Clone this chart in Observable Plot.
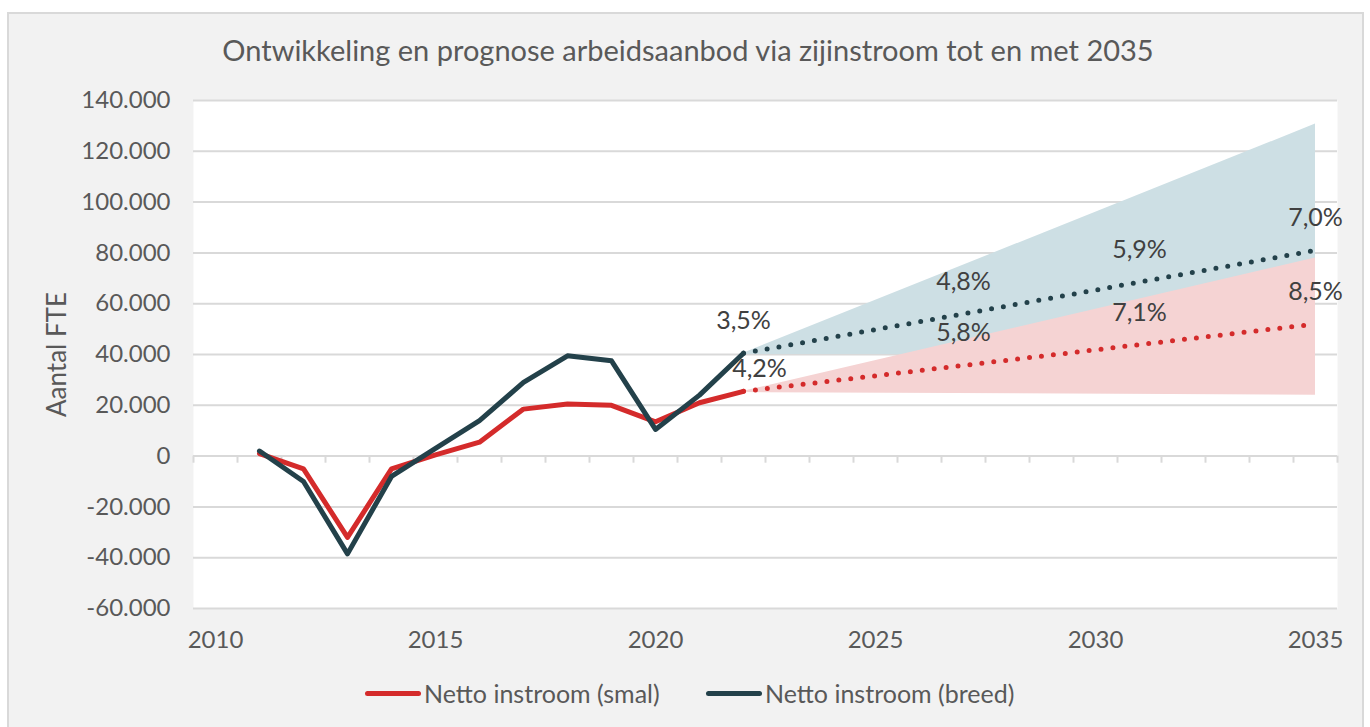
<!DOCTYPE html>
<html>
<head>
<meta charset="utf-8">
<script src="https://cdn.jsdelivr.net/npm/d3@7"></script>
<script src="https://cdn.jsdelivr.net/npm/@observablehq/plot@0.6"></script>
<style>
  html, body { margin: 0; padding: 0; background: #ffffff; }
  body { width: 1370px; height: 727px; position: relative; overflow: hidden; font-family: Lato, "Open Sans", sans-serif; }
  #box { position: absolute; left: 7px; top: 12px; width: 1357px; height: 800px; background: #f2f2f2; border: 2px solid #d9d9d9; box-sizing: border-box; }
  #chart { position: absolute; left: 0; top: 0; }
  #title { position: absolute; left: 0; top: 32px; width: 1376px; text-align: center; font-size: 29px; color: #595959; line-height: 36px; white-space: nowrap; }
  .leg { position: absolute; top: 679px; height: 28px; display: flex; align-items: center; font-size: 25px; color: #595959; white-space: nowrap; }
  .sw { display: inline-block; width: 56px; height: 5px; border-radius: 3px; margin-right: 3px; }
</style>
</head>
<body>
<div id="box"></div>
<div id="chart"></div>
<div id="title">Ontwikkeling en prognose arbeidsaanbod via zijinstroom tot en met 2035</div>
<div class="leg" style="left:365px"><span class="sw" style="background:#d42b2b"></span>Netto instroom (smal)</div>
<div class="leg" style="left:706px"><span class="sw" style="background:#23414a"></span>Netto instroom (breed)</div>
<script>
// ---- data ----
const years = [2011, 2012, 2013, 2014, 2015, 2016, 2017, 2018, 2019, 2020, 2021, 2022];
const smal  = [1000, -5000, -32000, -5000, 500, 5500, 18500, 20500, 20000, 13500, 21000, 25500];
const breed = [2000, -10000, -38500, -8000, 3000, 14000, 29000, 39500, 37500, 10500, 24000, 40500];

const projYears = [2022, 2027, 2031, 2035];
const projSmal  = [25500, 35700, 43900, 52000];
const projBreed = [40500, 56000, 68500, 81000];
const labelsSmal  = ["4,2%", "5,8%", "7,1%", "8,5%"];
const labelsBreed = ["3,5%", "4,8%", "5,9%", "7,0%"];

const bandYears = [2022, 2035];
const breedLow  = [40000, 40000];
const breedHigh = [40500, 130700];
const smalLow   = [25000, 24000];
const smalHigh  = [25500, 78000];

const xTicks = [2010, 2015, 2020, 2025, 2030, 2035];
const yTicks = [-60000, -40000, -20000, 0, 20000, 40000, 60000, 80000, 100000, 120000, 140000];
const halfYears = d3.range(2009.5, 2036, 1);

// ---- tables ----
const hist = years.map((y, i) => ({year: y, smal: smal[i], breed: breed[i]}));
const proj = projYears.map((y, i) => ({year: y, smal: projSmal[i], breed: projBreed[i], ls: labelsSmal[i], lb: labelsBreed[i]}));
const bands = bandYears.map((y, i) => ({year: y, bl: breedLow[i], bh: breedHigh[i], sl: smalLow[i], sh: smalHigh[i]}));

const loc = d3.formatLocale({decimal: ",", thousands: ".", grouping: [3], currency: ["€", ""], minus: "-"});
const fmt = loc.format(",.0f");

const RED = "#d42b2b", DARK = "#23414a", TXT = "#595959";

const chart = Plot.plot({
  width: 1370, height: 727,
  marginLeft: 193, marginRight: 33, marginTop: 100, marginBottom: 119,
  x: {domain: [2009.5, 2035.5]},
  y: {domain: [-60000, 140000]},
  style: {background: "transparent", fontFamily: "Lato, 'Open Sans', sans-serif", fontSize: "24px", color: TXT, overflow: "visible"},
  marks: [
    Plot.frame({fill: "white", stroke: "none"}),
    Plot.ruleY(yTicks, {stroke: "#d9d9d9", strokeWidth: 2}),
    Plot.ruleX(halfYears, {x: d => d, y1: 0, y2: -2800, stroke: "#d9d9d9", strokeWidth: 2}),
    Plot.areaY(bands, {x: "year", y1: "bl", y2: "bh", fill: "#cddfe4"}),
    Plot.areaY(bands, {x: "year", y1: "sl", y2: "sh", fill: "#f5d3d3"}),
    Plot.line(proj, {x: "year", y: "breed", stroke: DARK, strokeWidth: 5, strokeDasharray: "0 12", strokeLinecap: "round"}),
    Plot.line(proj, {x: "year", y: "smal", stroke: RED, strokeWidth: 5, strokeDasharray: "0 12", strokeLinecap: "round"}),
    Plot.line(hist, {x: "year", y: "smal", stroke: RED, strokeWidth: 5, strokeLinejoin: "round"}),
    Plot.line(hist, {x: "year", y: "breed", stroke: DARK, strokeWidth: 5, strokeLinejoin: "round"}),
    Plot.text(proj, {x: "year", y: "breed", text: "lb", dy: -32, fill: "#404040", fontSize: 25}),
    Plot.text(proj.slice(1), {x: "year", y: "smal", text: "ls", dy: -32, fill: "#404040", fontSize: 25}),
    Plot.text(proj.slice(0, 1), {x: "year", y: "smal", text: "ls", dy: -22, dx: 16, fill: "#404040", fontSize: 25}),
    Plot.axisX(xTicks, {tickSize: 0, tickPadding: 22, tickFormat: d => String(d), fill: TXT, fontSize: 24, label: null}),
    Plot.axisY(yTicks, {tickSize: 0, tickPadding: 23, tickFormat: fmt, fill: TXT, fontSize: 24, label: null}),
    Plot.text(["Aantal FTE"], {frameAnchor: "left", textAnchor: "middle", rotate: -90, dx: -136, fill: TXT, fontSize: 26})
  ]
});
document.getElementById("chart").appendChild(chart);
</script>
</body>
</html>
